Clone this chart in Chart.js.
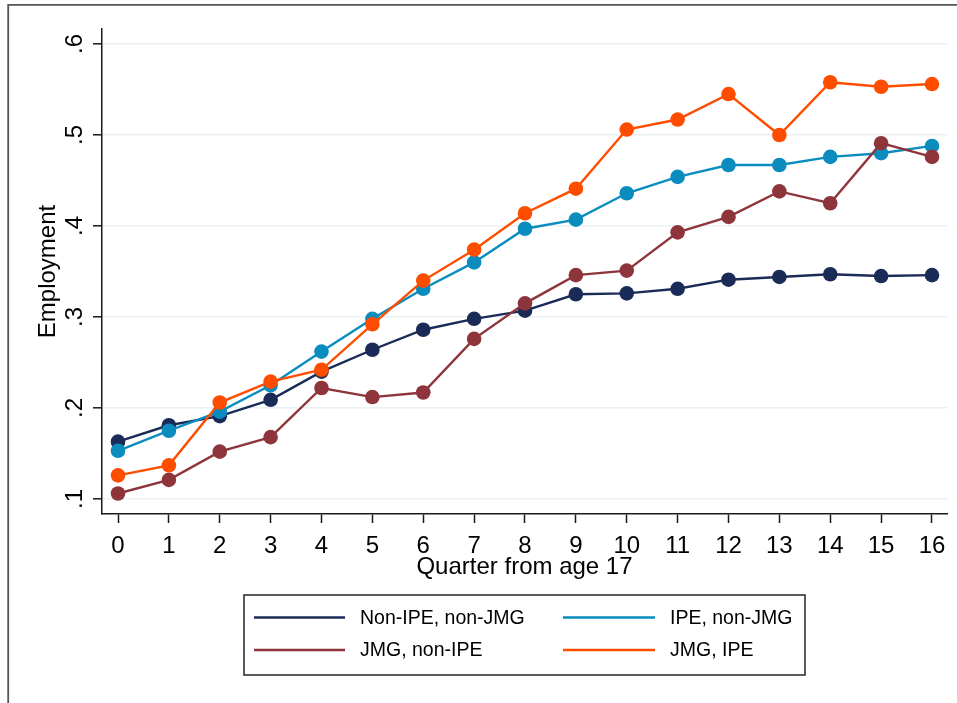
<!DOCTYPE html>
<html>
<head>
<meta charset="utf-8">
<title>Employment by quarter from age 17</title>
<script src="https://cdn.jsdelivr.net/npm/chart.js@4/dist/chart.umd.min.js"></script>
<style>
  html, body { margin: 0; padding: 0; background: #ffffff; }
  canvas { display: block; }
</style>
</head>
<body>
<canvas id="chart" width="957" height="703"></canvas>
<script>
// Quarters since age 17 (x values)
const quarters = [0, 1, 2, 3, 4, 5, 6, 7, 8, 9, 10, 11, 12, 13, 14, 15, 16];

// Employment rate by group
const nonIpeNonJmg = [0.163, 0.181, 0.191, 0.209, 0.240, 0.264, 0.286, 0.298, 0.307, 0.325, 0.326, 0.331, 0.341, 0.344, 0.347, 0.345, 0.346];
const ipeNonJmg    = [0.153, 0.175, 0.196, 0.225, 0.262, 0.298, 0.331, 0.360, 0.397, 0.407, 0.436, 0.454, 0.467, 0.467, 0.476, 0.480, 0.488];
const jmgNonIpe    = [0.106, 0.121, 0.152, 0.168, 0.222, 0.212, 0.217, 0.276, 0.315, 0.346, 0.351, 0.393, 0.410, 0.438, 0.425, 0.491, 0.476];
const jmgIpe       = [0.126, 0.137, 0.206, 0.229, 0.242, 0.292, 0.340, 0.374, 0.414, 0.441, 0.506, 0.517, 0.545, 0.500, 0.558, 0.553, 0.556];

// Axis ticks
const xTickValues = [0, 1, 2, 3, 4, 5, 6, 7, 8, 9, 10, 11, 12, 13, 14, 15, 16];
const yTickValues = [0.1, 0.2, 0.3, 0.4, 0.5, 0.6];
const yTickLabels = ['.1', '.2', '.3', '.4', '.5', '.6'];

const seriesNames = ['Non-IPE, non-JMG', 'IPE, non-JMG', 'JMG, non-IPE', 'JMG, IPE'];
const seriesValues = [nonIpeNonJmg, ipeNonJmg, jmgNonIpe, jmgIpe];
const seriesColors = ['#1b2b57', '#0b8cbf', '#8e353c', '#ff4d00'];

const FONT = "'Liberation Sans', Arial, Helvetica, sans-serif";
const INK = '#1a1a1a';

// Later groups are painted over earlier ones
const datasets = seriesNames.map((name, i) => ({
  label: name,
  data: quarters.map((q, k) => ({ x: q, y: seriesValues[i][k] })),
  borderColor: seriesColors[i],
  backgroundColor: seriesColors[i],
  pointBackgroundColor: seriesColors[i],
  pointBorderColor: seriesColors[i],
  pointBorderWidth: 0,
  pointRadius: 7.3,
  pointHoverRadius: 7.3,
  borderWidth: 2.4,
  tension: 0,
  clip: false,
  order: seriesNames.length - 1 - i
}));

// White page with the outer frame edges
const framePlugin = {
  id: 'frame',
  beforeDraw(chart) {
    const ctx = chart.ctx;
    ctx.save();
    ctx.fillStyle = '#ffffff';
    ctx.fillRect(0, 0, chart.width, chart.height);
    ctx.strokeStyle = '#555555';
    ctx.lineWidth = 1.8;
    ctx.beginPath();
    ctx.moveTo(8.2, chart.height);
    ctx.lineTo(8.2, 4.8);
    ctx.lineTo(chart.width, 4.8);
    ctx.stroke();
    ctx.restore();
  }
};

// Two-column boxed key below the plot
const keyPlugin = {
  id: 'boxedKey',
  afterDraw(chart) {
    const ctx = chart.ctx;
    const box = { left: 244, top: 595, right: 805, bottom: 675 };
    const colLine = [[254, 345], [563, 655]];
    const colText = [360, 670];
    const rowY = [617.5, 650];
    ctx.save();
    ctx.strokeStyle = '#333333';
    ctx.lineWidth = 1.6;
    ctx.strokeRect(box.left, box.top, box.right - box.left, box.bottom - box.top);
    ctx.font = '19.5px ' + FONT;
    ctx.textBaseline = 'middle';
    ctx.textAlign = 'left';
    chart.data.datasets.forEach((ds, i) => {
      const col = i % 2;
      const row = Math.floor(i / 2);
      ctx.strokeStyle = ds.borderColor;
      ctx.lineWidth = 2.4;
      ctx.beginPath();
      ctx.moveTo(colLine[col][0], rowY[row]);
      ctx.lineTo(colLine[col][1], rowY[row]);
      ctx.stroke();
      ctx.fillStyle = '#000000';
      ctx.fillText(ds.label, colText[col], rowY[row] + 1);
    });
    ctx.restore();
  }
};

new Chart(document.getElementById('chart'), {
  type: 'line',
  data: { datasets },
  options: {
    responsive: false,
    animation: false,
    events: [],
    layout: { padding: { top: 29, right: 10, left: 0, bottom: 121 } },
    plugins: {
      legend: { display: false },
      tooltip: { enabled: false }
    },
    scales: {
      x: {
        type: 'linear',
        min: -0.3145,
        max: 16.295,
        afterBuildTicks: s => { s.ticks = xTickValues.map(v => ({ value: v })); },
        afterFit: s => { s.height = 68; },
        border: { color: INK, width: 1.5 },
        grid: { drawOnChartArea: false, drawTicks: true, tickLength: 9, tickColor: INK, tickWidth: 1.5 },
        ticks: {
          autoSkip: false, maxRotation: 0, minRotation: 0, padding: 9,
          color: '#000000', font: { family: FONT, size: 24 },
          callback: v => String(v)
        },
        title: {
          display: true, text: 'Quarter from age 17', color: '#000000',
          font: { family: FONT, size: 24 }, padding: { top: 0, bottom: 0 }
        }
      },
      y: {
        type: 'linear',
        min: 0.0835,
        max: 0.6165,
        afterBuildTicks: s => { s.ticks = yTickValues.map(v => ({ value: v })); },
        afterFit: s => { s.width = 102; },
        border: { color: INK, width: 1.5 },
        grid: { color: '#e9f1f3', lineWidth: 1.6, drawTicks: true, tickLength: 9, tickColor: INK, tickWidth: 1.5 },
        ticks: {
          autoSkip: false, minRotation: 90, maxRotation: 90, crossAlign: 'center', padding: 8,
          color: '#000000', font: { family: FONT, size: 24 },
          callback: (v, i) => yTickLabels[i]
        },
        title: {
          display: true, text: 'Employment', color: '#000000',
          font: { family: FONT, size: 24 }, padding: { top: 34, bottom: 0 }
        }
      }
    }
  },
  plugins: [framePlugin, keyPlugin]
});
</script>
</body>
</html>
